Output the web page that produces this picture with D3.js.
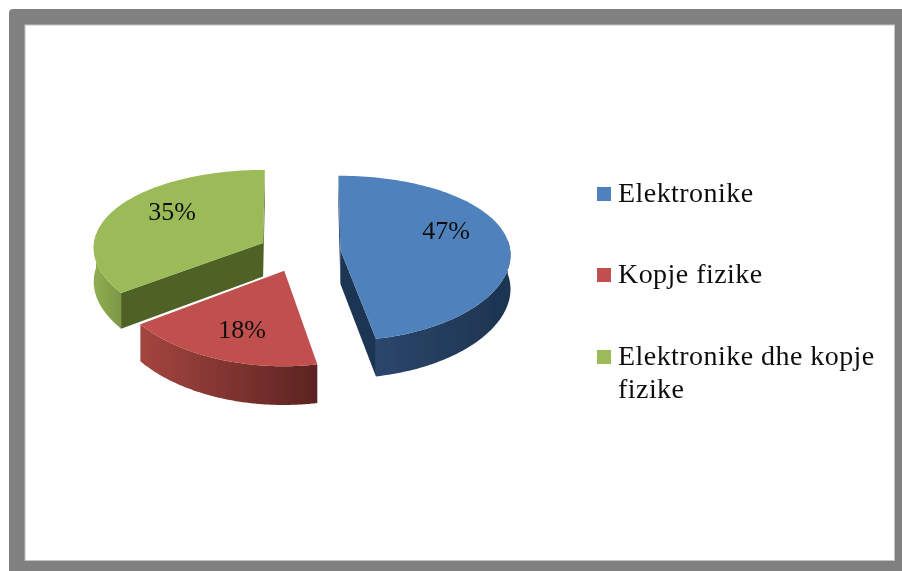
<!DOCTYPE html>
<html><head><meta charset="utf-8">
<script src="https://cdn.jsdelivr.net/npm/d3@7/dist/d3.min.js"></script>
<style>html,body{margin:0;padding:0;background:#fff}svg{display:block}text{font-family:"Liberation Serif",serif;fill:#111}</style>
</head><body><svg id="c" width="902" height="571"></svg>
<script>
const categories = ["Elektronike", "Kopje fizike", "Elektronike dhe kopje fizike"];
const values = [47, 18, 35];
const labels = ["47%", "18%", "35%"];
const legendLines = [["Elektronike"], ["Kopje fizike"], ["Elektronike dhe kopje", "fizike"]];
const topColors = ["#4f81bd", "#c0504d", "#9bbb59"];
const wallColors = ["#1e3552", "#4f6228", "#4f6228"];
const outerStops = [["#2b466b", "#1d3450"], ["#a4453f", "#5c2321"], ["#8fae50", "#7b9745"]];
const labelAnchors = [[446, 239], [242, 338], [172, 220]];
const legendY = [202, 283, 365];

const W = 902, H = 571;
const svg = d3.select("#c");
const defs = svg.append("defs");
defs.append("filter").attr("id", "soft").attr("x", "-5%").attr("y", "-5%").attr("width", "110%").attr("height", "110%")
  .append("feGaussianBlur").attr("stdDeviation", 0.45);

// frame
svg.append("rect").attr("x", 9).attr("y", 9).attr("width", W).attr("height", H).attr("rx", 4).attr("fill", "#808080");
svg.append("rect").attr("x", 25).attr("y", 25).attr("width", 869.5).attr("height", 535.5).attr("fill", "#fff").attr("stroke", "#c4c4c4").attr("stroke-width", 1);

const chart = svg.append("g").attr("filter", "url(#soft)");

// perspective pie geometry
const cx = 299.5, cy = 251.8, rx = 170, ry = 82, perspX = 0.05, perspY = 0.1, explode = 0.2417, depth = 34;
const xS = d3.scaleLinear().domain([0, 1]).range([0, rx]);
const yS = d3.scaleLinear().domain([0, 1]).range([0, -ry]);
function project(X, Y, z) {
  const sx = 1 / (1 + perspX * Y), sy = 1 / (1 + perspY * Y);
  return [cx + xS(X) * sx, cy + yS(Y) * sy + (z || 0) * depth * sy];
}
const pie = d3.pie().sort(null).value(d => d)(values);
const lineGen = d3.line().curve(d3.curveLinearClosed);

const order = [2, 0, 1]; // back to front
order.forEach(i => {
  const p = pie[i], mid = (p.startAngle + p.endAngle) / 2;
  const ax = explode * Math.sin(mid), ay = explode * Math.cos(mid);
  const rim = t => [ax + Math.sin(t), ay + Math.cos(t)];
  const ts = d3.range(0, 121).map(k => p.startAngle + (p.endAngle - p.startAngle) * k / 120);
  const top = (a) => project(a[0], a[1], 0), bot = a => project(a[0], a[1], 1);
  const apex = [ax, ay];

  // straight cut walls, drawn when the camera can see them
  [p.startAngle, p.endAngle].forEach(t => {
    const A = top(apex), B = top(rim(t)), I = top(rim(mid));
    const e = [B[0] - A[0], B[1] - A[1]];
    const crossI = e[0] * (I[1] - A[1]) - e[1] * (I[0] - A[0]);
    const crossD = e[0];
    if (crossI * crossD < 0) {
      chart.append("path").attr("d", lineGen([A, B, bot(rim(t)), bot(apex)])).attr("fill", wallColors[i]);
    }
  });

  // outer curved wall: only the front-facing part of the rim
  const front = ts.filter(t => Math.cos(t) < 0.12);
  if (front.length > 1) {
    const upper = front.map(t => top(rim(t))), lower = front.map(t => bot(rim(t))).reverse();
    const ext = d3.extent(upper, d => d[0]);
    const id = "outer" + i;
    const g = defs.append("linearGradient").attr("id", id).attr("gradientUnits", "userSpaceOnUse")
      .attr("x1", ext[0]).attr("x2", ext[1]).attr("y1", 0).attr("y2", 0);
    g.append("stop").attr("offset", 0).attr("stop-color", outerStops[i][0]);
    g.append("stop").attr("offset", 1).attr("stop-color", outerStops[i][1]);
    chart.append("path").attr("d", lineGen(upper.concat(lower))).attr("fill", `url(#${id})`);
  }

  // top face
  const face = [top(apex)].concat(ts.map(t => top(rim(t))));
  chart.append("path").attr("d", lineGen(face)).attr("fill", topColors[i]);
});

// data labels
labels.forEach((t, i) => {
  chart.append("text").attr("x", labelAnchors[i][0]).attr("y", labelAnchors[i][1])
    .attr("text-anchor", "middle").attr("font-size", 26).text(t);
});

// legend
categories.forEach((c, i) => {
  chart.append("rect").attr("x", 597).attr("y", legendY[i] - 15).attr("width", 14).attr("height", 14).attr("fill", topColors[i]);
  legendLines[i].forEach((ln, j) => {
    chart.append("text").attr("x", 618).attr("y", legendY[i] + j * 33)
      .attr("font-size", 28).attr("letter-spacing", 0.45).text(ln);
  });
});
</script></body></html>
